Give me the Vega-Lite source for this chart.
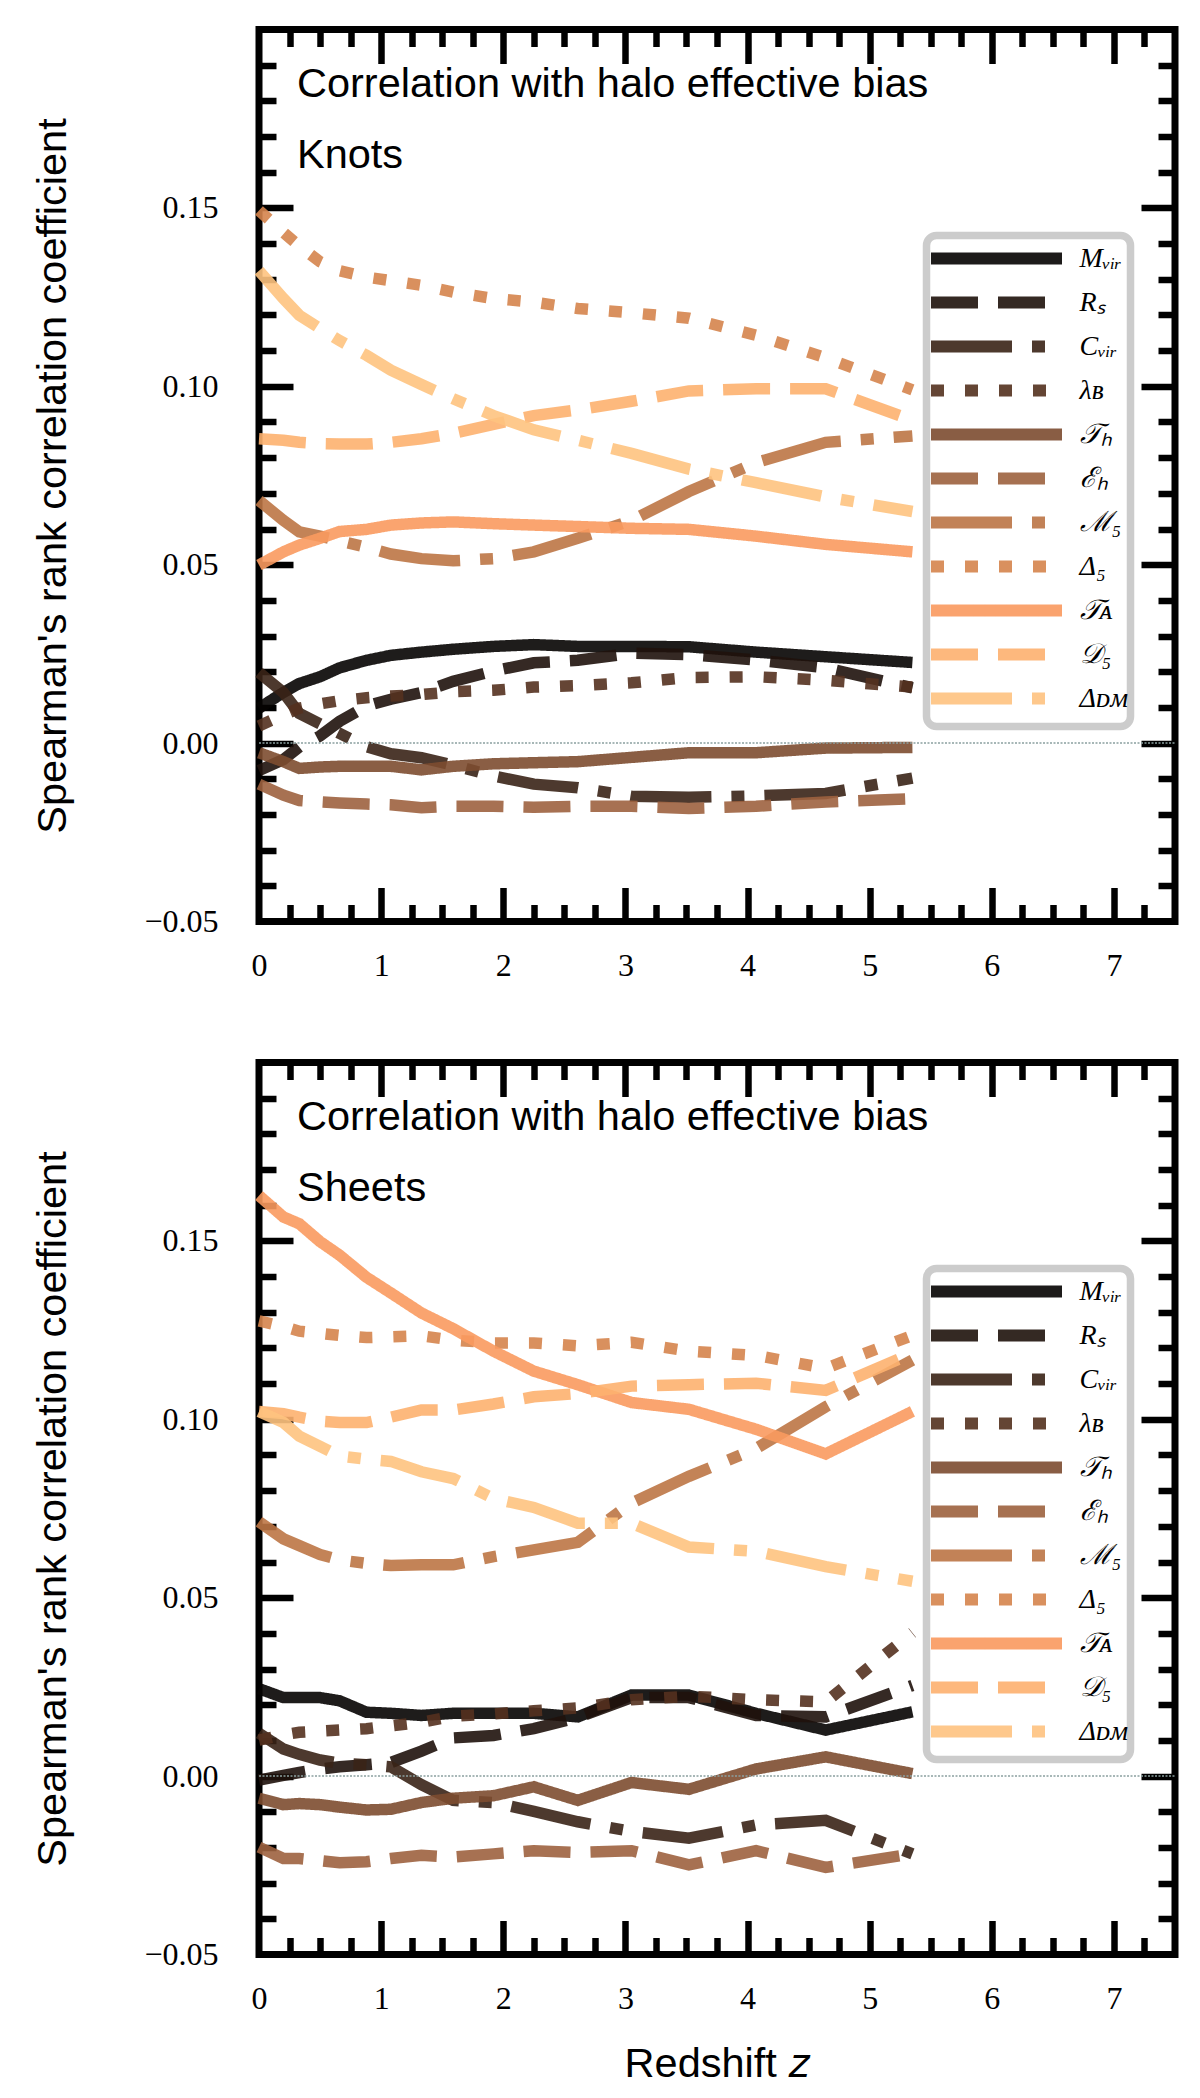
{
  "$schema": "https://vega.github.io/schema/vega-lite/v6.json",
  "autosize": {"type": "pad"},
  "padding": {"left": 28, "top": 22.5, "right": 0, "bottom": 0},
  "background": "white",
  "datasets": {
    "knots": [
      {"z":0,"prop":"Mvir","rho":0.0098},{"z":0.2,"prop":"Mvir","rho":0.0142},{"z":0.33,"prop":"Mvir","rho":0.0167},{"z":0.5,"prop":"Mvir","rho":0.0186},{"z":0.66,"prop":"Mvir","rho":0.0211},{"z":0.88,"prop":"Mvir","rho":0.0232},{"z":1.08,"prop":"Mvir","rho":0.0246},{"z":1.33,"prop":"Mvir","rho":0.0255},{"z":1.59,"prop":"Mvir","rho":0.0263},{"z":1.92,"prop":"Mvir","rho":0.0271},{"z":2.25,"prop":"Mvir","rho":0.0276},{"z":2.61,"prop":"Mvir","rho":0.0271},{"z":3.05,"prop":"Mvir","rho":0.0271},{"z":3.52,"prop":"Mvir","rho":0.027},{"z":4.07,"prop":"Mvir","rho":0.0255},{"z":4.64,"prop":"Mvir","rho":0.0242},{"z":5.35,"prop":"Mvir","rho":0.0226},
      {"z":0,"prop":"Rs","rho":-0.0077},{"z":0.2,"prop":"Rs","rho":-0.0046},{"z":0.33,"prop":"Rs","rho":-0.0011},{"z":0.5,"prop":"Rs","rho":0.002},{"z":0.66,"prop":"Rs","rho":0.0061},{"z":0.88,"prop":"Rs","rho":0.0104},{"z":1.08,"prop":"Rs","rho":0.0123},{"z":1.33,"prop":"Rs","rho":0.0142},{"z":1.59,"prop":"Rs","rho":0.0173},{"z":1.92,"prop":"Rs","rho":0.0202},{"z":2.25,"prop":"Rs","rho":0.0225},{"z":2.61,"prop":"Rs","rho":0.0232},{"z":3.05,"prop":"Rs","rho":0.0252},{"z":3.52,"prop":"Rs","rho":0.0248},{"z":4.07,"prop":"Rs","rho":0.0233},{"z":4.64,"prop":"Rs","rho":0.0211},{"z":5.35,"prop":"Rs","rho":0.0155},
      {"z":0,"prop":"Cvir","rho":0.0198},{"z":0.2,"prop":"Cvir","rho":0.0142},{"z":0.33,"prop":"Cvir","rho":0.0083},{"z":0.5,"prop":"Cvir","rho":0.0054},{"z":0.66,"prop":"Cvir","rho":0.0027},{"z":0.88,"prop":"Cvir","rho":-0.001},{"z":1.08,"prop":"Cvir","rho":-0.003},{"z":1.33,"prop":"Cvir","rho":-0.0041},{"z":1.59,"prop":"Cvir","rho":-0.0062},{"z":1.92,"prop":"Cvir","rho":-0.0092},{"z":2.25,"prop":"Cvir","rho":-0.0115},{"z":2.61,"prop":"Cvir","rho":-0.0125},{"z":3.05,"prop":"Cvir","rho":-0.0149},{"z":3.52,"prop":"Cvir","rho":-0.0152},{"z":4.07,"prop":"Cvir","rho":-0.0148},{"z":4.64,"prop":"Cvir","rho":-0.0141},{"z":5.35,"prop":"Cvir","rho":-0.0098},
      {"z":0,"prop":"lambdaB","rho":0.0048},{"z":0.2,"prop":"lambdaB","rho":0.0079},{"z":0.33,"prop":"lambdaB","rho":0.0098},{"z":0.5,"prop":"lambdaB","rho":0.011},{"z":0.66,"prop":"lambdaB","rho":0.0119},{"z":0.88,"prop":"lambdaB","rho":0.0127},{"z":1.08,"prop":"lambdaB","rho":0.0132},{"z":1.33,"prop":"lambdaB","rho":0.0136},{"z":1.59,"prop":"lambdaB","rho":0.0144},{"z":1.92,"prop":"lambdaB","rho":0.0148},{"z":2.25,"prop":"lambdaB","rho":0.0157},{"z":2.61,"prop":"lambdaB","rho":0.0161},{"z":3.05,"prop":"lambdaB","rho":0.0169},{"z":3.52,"prop":"lambdaB","rho":0.0184},{"z":4.07,"prop":"lambdaB","rho":0.0186},{"z":4.64,"prop":"lambdaB","rho":0.0176},{"z":5.35,"prop":"lambdaB","rho":0.0157},
      {"z":0,"prop":"Th","rho":-0.0027},{"z":0.2,"prop":"Th","rho":-0.0052},{"z":0.33,"prop":"Th","rho":-0.0071},{"z":0.5,"prop":"Th","rho":-0.0067},{"z":0.66,"prop":"Th","rho":-0.0065},{"z":0.88,"prop":"Th","rho":-0.0065},{"z":1.08,"prop":"Th","rho":-0.0065},{"z":1.33,"prop":"Th","rho":-0.0075},{"z":1.59,"prop":"Th","rho":-0.0065},{"z":1.92,"prop":"Th","rho":-0.0058},{"z":2.25,"prop":"Th","rho":-0.0055},{"z":2.61,"prop":"Th","rho":-0.0052},{"z":3.05,"prop":"Th","rho":-0.004},{"z":3.52,"prop":"Th","rho":-0.0027},{"z":4.07,"prop":"Th","rho":-0.0027},{"z":4.64,"prop":"Th","rho":-0.0014},{"z":5.35,"prop":"Th","rho":-0.0012},
      {"z":0,"prop":"Eh","rho":-0.0115},{"z":0.2,"prop":"Eh","rho":-0.0146},{"z":0.33,"prop":"Eh","rho":-0.0161},{"z":0.5,"prop":"Eh","rho":-0.0165},{"z":0.66,"prop":"Eh","rho":-0.0168},{"z":0.88,"prop":"Eh","rho":-0.0171},{"z":1.08,"prop":"Eh","rho":-0.0173},{"z":1.33,"prop":"Eh","rho":-0.0181},{"z":1.59,"prop":"Eh","rho":-0.0177},{"z":1.92,"prop":"Eh","rho":-0.0177},{"z":2.25,"prop":"Eh","rho":-0.018},{"z":2.61,"prop":"Eh","rho":-0.0177},{"z":3.05,"prop":"Eh","rho":-0.0177},{"z":3.52,"prop":"Eh","rho":-0.0183},{"z":4.07,"prop":"Eh","rho":-0.0177},{"z":4.64,"prop":"Eh","rho":-0.0165},{"z":5.35,"prop":"Eh","rho":-0.0156},
      {"z":0,"prop":"M5","rho":0.068},{"z":0.2,"prop":"M5","rho":0.0624},{"z":0.33,"prop":"M5","rho":0.0592},{"z":0.5,"prop":"M5","rho":0.058},{"z":0.66,"prop":"M5","rho":0.0567},{"z":0.88,"prop":"M5","rho":0.0549},{"z":1.08,"prop":"M5","rho":0.053},{"z":1.33,"prop":"M5","rho":0.0517},{"z":1.59,"prop":"M5","rho":0.0511},{"z":1.92,"prop":"M5","rho":0.0517},{"z":2.25,"prop":"M5","rho":0.0536},{"z":2.61,"prop":"M5","rho":0.0574},{"z":3.05,"prop":"M5","rho":0.0624},{"z":3.52,"prop":"M5","rho":0.0705},{"z":4.07,"prop":"M5","rho":0.0786},{"z":4.64,"prop":"M5","rho":0.0843},{"z":5.35,"prop":"M5","rho":0.0861},
      {"z":0,"prop":"Delta5","rho":0.1493},{"z":0.2,"prop":"Delta5","rho":0.1431},{"z":0.33,"prop":"Delta5","rho":0.1393},{"z":0.5,"prop":"Delta5","rho":0.1349},{"z":0.66,"prop":"Delta5","rho":0.1324},{"z":0.88,"prop":"Delta5","rho":0.1306},{"z":1.08,"prop":"Delta5","rho":0.1296},{"z":1.33,"prop":"Delta5","rho":0.1283},{"z":1.59,"prop":"Delta5","rho":0.1264},{"z":1.92,"prop":"Delta5","rho":0.1246},{"z":2.25,"prop":"Delta5","rho":0.1236},{"z":2.61,"prop":"Delta5","rho":0.1218},{"z":3.05,"prop":"Delta5","rho":0.1206},{"z":3.52,"prop":"Delta5","rho":0.1191},{"z":4.07,"prop":"Delta5","rho":0.1143},{"z":4.64,"prop":"Delta5","rho":0.108},{"z":5.35,"prop":"Delta5","rho":0.099},
      {"z":0,"prop":"TA","rho":0.0499},{"z":0.2,"prop":"TA","rho":0.0536},{"z":0.33,"prop":"TA","rho":0.0555},{"z":0.5,"prop":"TA","rho":0.0574},{"z":0.66,"prop":"TA","rho":0.0593},{"z":0.88,"prop":"TA","rho":0.0599},{"z":1.08,"prop":"TA","rho":0.0611},{"z":1.33,"prop":"TA","rho":0.0617},{"z":1.59,"prop":"TA","rho":0.062},{"z":1.92,"prop":"TA","rho":0.0615},{"z":2.25,"prop":"TA","rho":0.0611},{"z":2.61,"prop":"TA","rho":0.0607},{"z":3.05,"prop":"TA","rho":0.0602},{"z":3.52,"prop":"TA","rho":0.0599},{"z":4.07,"prop":"TA","rho":0.058},{"z":4.64,"prop":"TA","rho":0.0557},{"z":5.35,"prop":"TA","rho":0.0536},
      {"z":0,"prop":"D5","rho":0.0853},{"z":0.2,"prop":"D5","rho":0.0849},{"z":0.33,"prop":"D5","rho":0.0843},{"z":0.5,"prop":"D5","rho":0.0839},{"z":0.66,"prop":"D5","rho":0.0838},{"z":0.88,"prop":"D5","rho":0.0838},{"z":1.08,"prop":"D5","rho":0.0843},{"z":1.33,"prop":"D5","rho":0.0853},{"z":1.59,"prop":"D5","rho":0.0868},{"z":1.92,"prop":"D5","rho":0.0893},{"z":2.25,"prop":"D5","rho":0.0918},{"z":2.61,"prop":"D5","rho":0.0934},{"z":3.05,"prop":"D5","rho":0.0958},{"z":3.52,"prop":"D5","rho":0.0987},{"z":4.07,"prop":"D5","rho":0.0993},{"z":4.64,"prop":"D5","rho":0.0993},{"z":5.35,"prop":"D5","rho":0.0905},
      {"z":0,"prop":"Deltadm","rho":0.1324},{"z":0.2,"prop":"Deltadm","rho":0.1246},{"z":0.33,"prop":"Deltadm","rho":0.1199},{"z":0.5,"prop":"Deltadm","rho":0.1162},{"z":0.66,"prop":"Deltadm","rho":0.1128},{"z":0.88,"prop":"Deltadm","rho":0.1087},{"z":1.08,"prop":"Deltadm","rho":0.1045},{"z":1.33,"prop":"Deltadm","rho":0.1005},{"z":1.59,"prop":"Deltadm","rho":0.0965},{"z":1.92,"prop":"Deltadm","rho":0.0918},{"z":2.25,"prop":"Deltadm","rho":0.0878},{"z":2.61,"prop":"Deltadm","rho":0.0849},{"z":3.05,"prop":"Deltadm","rho":0.0812},{"z":3.52,"prop":"Deltadm","rho":0.0768},{"z":4.07,"prop":"Deltadm","rho":0.073},{"z":4.64,"prop":"Deltadm","rho":0.069},{"z":5.35,"prop":"Deltadm","rho":0.0649}
    ],
    "sheets": [
      {"z":0,"prop":"Mvir","rho":0.0245},{"z":0.2,"prop":"Mvir","rho":0.022},{"z":0.33,"prop":"Mvir","rho":0.022},{"z":0.5,"prop":"Mvir","rho":0.022},{"z":0.66,"prop":"Mvir","rho":0.0211},{"z":0.88,"prop":"Mvir","rho":0.0179},{"z":1.08,"prop":"Mvir","rho":0.0176},{"z":1.33,"prop":"Mvir","rho":0.017},{"z":1.59,"prop":"Mvir","rho":0.0176},{"z":1.92,"prop":"Mvir","rho":0.0176},{"z":2.25,"prop":"Mvir","rho":0.0176},{"z":2.61,"prop":"Mvir","rho":0.0166},{"z":3.05,"prop":"Mvir","rho":0.0227},{"z":3.52,"prop":"Mvir","rho":0.0227},{"z":4.07,"prop":"Mvir","rho":0.0176},{"z":4.64,"prop":"Mvir","rho":0.0129},{"z":5.35,"prop":"Mvir","rho":0.018},
      {"z":0,"prop":"Rs","rho":-0.0011},{"z":0.2,"prop":"Rs","rho":0.0002},{"z":0.33,"prop":"Rs","rho":0.001},{"z":0.5,"prop":"Rs","rho":0.002},{"z":0.66,"prop":"Rs","rho":0.0026},{"z":0.88,"prop":"Rs","rho":0.0032},{"z":1.08,"prop":"Rs","rho":0.0038},{"z":1.33,"prop":"Rs","rho":0.007},{"z":1.59,"prop":"Rs","rho":0.0107},{"z":1.92,"prop":"Rs","rho":0.0114},{"z":2.25,"prop":"Rs","rho":0.0133},{"z":2.61,"prop":"Rs","rho":0.0164},{"z":3.05,"prop":"Rs","rho":0.022},{"z":3.52,"prop":"Rs","rho":0.022},{"z":4.07,"prop":"Rs","rho":0.017},{"z":4.64,"prop":"Rs","rho":0.0166},{"z":5.35,"prop":"Rs","rho":0.0254},
      {"z":0,"prop":"Cvir","rho":0.012},{"z":0.2,"prop":"Cvir","rho":0.0076},{"z":0.33,"prop":"Cvir","rho":0.0061},{"z":0.5,"prop":"Cvir","rho":0.0045},{"z":0.66,"prop":"Cvir","rho":0.0036},{"z":0.88,"prop":"Cvir","rho":0.0032},{"z":1.08,"prop":"Cvir","rho":0.0026},{"z":1.33,"prop":"Cvir","rho":-0.0024},{"z":1.59,"prop":"Cvir","rho":-0.0068},{"z":1.92,"prop":"Cvir","rho":-0.0074},{"z":2.25,"prop":"Cvir","rho":-0.0099},{"z":2.61,"prop":"Cvir","rho":-0.0128},{"z":3.05,"prop":"Cvir","rho":-0.0155},{"z":3.52,"prop":"Cvir","rho":-0.0174},{"z":4.07,"prop":"Cvir","rho":-0.0137},{"z":4.64,"prop":"Cvir","rho":-0.0124},{"z":5.35,"prop":"Cvir","rho":-0.0218},
      {"z":0,"prop":"lambdaB","rho":0.0101},{"z":0.2,"prop":"lambdaB","rho":0.0116},{"z":0.33,"prop":"lambdaB","rho":0.0123},{"z":0.5,"prop":"lambdaB","rho":0.0126},{"z":0.66,"prop":"lambdaB","rho":0.0129},{"z":0.88,"prop":"lambdaB","rho":0.0133},{"z":1.08,"prop":"lambdaB","rho":0.0141},{"z":1.33,"prop":"lambdaB","rho":0.0151},{"z":1.59,"prop":"lambdaB","rho":0.0168},{"z":1.92,"prop":"lambdaB","rho":0.0174},{"z":2.25,"prop":"lambdaB","rho":0.0183},{"z":2.61,"prop":"lambdaB","rho":0.0191},{"z":3.05,"prop":"lambdaB","rho":0.0214},{"z":3.52,"prop":"lambdaB","rho":0.0224},{"z":4.07,"prop":"lambdaB","rho":0.0214},{"z":4.64,"prop":"lambdaB","rho":0.0208},{"z":5.35,"prop":"lambdaB","rho":0.0402},
      {"z":0,"prop":"Th","rho":-0.0062},{"z":0.2,"prop":"Th","rho":-0.008},{"z":0.33,"prop":"Th","rho":-0.0077},{"z":0.5,"prop":"Th","rho":-0.008},{"z":0.66,"prop":"Th","rho":-0.0087},{"z":0.88,"prop":"Th","rho":-0.0095},{"z":1.08,"prop":"Th","rho":-0.0093},{"z":1.33,"prop":"Th","rho":-0.0074},{"z":1.59,"prop":"Th","rho":-0.0062},{"z":1.92,"prop":"Th","rho":-0.0055},{"z":2.25,"prop":"Th","rho":-0.003},{"z":2.61,"prop":"Th","rho":-0.0068},{"z":3.05,"prop":"Th","rho":-0.0018},{"z":3.52,"prop":"Th","rho":-0.0037},{"z":4.07,"prop":"Th","rho":0.002},{"z":4.64,"prop":"Th","rho":0.0054},{"z":5.35,"prop":"Th","rho":0.0007},
      {"z":0,"prop":"Eh","rho":-0.0199},{"z":0.2,"prop":"Eh","rho":-0.0231},{"z":0.33,"prop":"Eh","rho":-0.0231},{"z":0.5,"prop":"Eh","rho":-0.0237},{"z":0.66,"prop":"Eh","rho":-0.0243},{"z":0.88,"prop":"Eh","rho":-0.024},{"z":1.08,"prop":"Eh","rho":-0.0231},{"z":1.33,"prop":"Eh","rho":-0.0222},{"z":1.59,"prop":"Eh","rho":-0.0227},{"z":1.92,"prop":"Eh","rho":-0.0218},{"z":2.25,"prop":"Eh","rho":-0.0209},{"z":2.61,"prop":"Eh","rho":-0.0214},{"z":3.05,"prop":"Eh","rho":-0.0209},{"z":3.52,"prop":"Eh","rho":-0.0249},{"z":4.07,"prop":"Eh","rho":-0.0209},{"z":4.64,"prop":"Eh","rho":-0.0256},{"z":5.35,"prop":"Eh","rho":-0.0218},
      {"z":0,"prop":"M5","rho":0.0713},{"z":0.2,"prop":"M5","rho":0.0665},{"z":0.33,"prop":"M5","rho":0.0646},{"z":0.5,"prop":"M5","rho":0.0621},{"z":0.66,"prop":"M5","rho":0.0606},{"z":0.88,"prop":"M5","rho":0.0596},{"z":1.08,"prop":"M5","rho":0.059},{"z":1.33,"prop":"M5","rho":0.0592},{"z":1.59,"prop":"M5","rho":0.0592},{"z":1.92,"prop":"M5","rho":0.0615},{"z":2.25,"prop":"M5","rho":0.0634},{"z":2.61,"prop":"M5","rho":0.0655},{"z":3.05,"prop":"M5","rho":0.0765},{"z":3.52,"prop":"M5","rho":0.084},{"z":4.07,"prop":"M5","rho":0.0918},{"z":4.64,"prop":"M5","rho":0.1035},{"z":5.35,"prop":"M5","rho":0.1166},
      {"z":0,"prop":"Delta5","rho":0.1276},{"z":0.2,"prop":"Delta5","rho":0.126},{"z":0.33,"prop":"Delta5","rho":0.1247},{"z":0.5,"prop":"Delta5","rho":0.1241},{"z":0.66,"prop":"Delta5","rho":0.1235},{"z":0.88,"prop":"Delta5","rho":0.1229},{"z":1.08,"prop":"Delta5","rho":0.1231},{"z":1.33,"prop":"Delta5","rho":0.1234},{"z":1.59,"prop":"Delta5","rho":0.1222},{"z":1.92,"prop":"Delta5","rho":0.1214},{"z":2.25,"prop":"Delta5","rho":0.1214},{"z":2.61,"prop":"Delta5","rho":0.1206},{"z":3.05,"prop":"Delta5","rho":0.1216},{"z":3.52,"prop":"Delta5","rho":0.1191},{"z":4.07,"prop":"Delta5","rho":0.1179},{"z":4.64,"prop":"Delta5","rho":0.1143},{"z":5.35,"prop":"Delta5","rho":0.1235},
      {"z":0,"prop":"TA","rho":0.1627},{"z":0.2,"prop":"TA","rho":0.1567},{"z":0.33,"prop":"TA","rho":0.1548},{"z":0.5,"prop":"TA","rho":0.1498},{"z":0.66,"prop":"TA","rho":0.146},{"z":0.88,"prop":"TA","rho":0.1398},{"z":1.08,"prop":"TA","rho":0.1354},{"z":1.33,"prop":"TA","rho":0.1298},{"z":1.59,"prop":"TA","rho":0.1254},{"z":1.92,"prop":"TA","rho":0.1191},{"z":2.25,"prop":"TA","rho":0.1135},{"z":2.61,"prop":"TA","rho":0.1097},{"z":3.05,"prop":"TA","rho":0.1047},{"z":3.52,"prop":"TA","rho":0.1028},{"z":4.07,"prop":"TA","rho":0.0972},{"z":4.64,"prop":"TA","rho":0.0903},{"z":5.35,"prop":"TA","rho":0.1022},
      {"z":0,"prop":"D5","rho":0.1022},{"z":0.2,"prop":"D5","rho":0.1016},{"z":0.33,"prop":"D5","rho":0.1006},{"z":0.5,"prop":"D5","rho":0.0995},{"z":0.66,"prop":"D5","rho":0.0991},{"z":0.88,"prop":"D5","rho":0.0991},{"z":1.08,"prop":"D5","rho":0.1006},{"z":1.33,"prop":"D5","rho":0.1026},{"z":1.59,"prop":"D5","rho":0.1026},{"z":1.92,"prop":"D5","rho":0.1043},{"z":2.25,"prop":"D5","rho":0.1063},{"z":2.61,"prop":"D5","rho":0.1072},{"z":3.05,"prop":"D5","rho":0.1093},{"z":3.52,"prop":"D5","rho":0.1097},{"z":4.07,"prop":"D5","rho":0.1101},{"z":4.64,"prop":"D5","rho":0.1081},{"z":5.35,"prop":"D5","rho":0.1185},
      {"z":0,"prop":"Deltadm","rho":0.1022},{"z":0.2,"prop":"Deltadm","rho":0.0991},{"z":0.33,"prop":"Deltadm","rho":0.0953},{"z":0.5,"prop":"Deltadm","rho":0.0924},{"z":0.66,"prop":"Deltadm","rho":0.0897},{"z":0.88,"prop":"Deltadm","rho":0.0888},{"z":1.08,"prop":"Deltadm","rho":0.0882},{"z":1.33,"prop":"Deltadm","rho":0.0853},{"z":1.59,"prop":"Deltadm","rho":0.0834},{"z":1.92,"prop":"Deltadm","rho":0.0778},{"z":2.25,"prop":"Deltadm","rho":0.0753},{"z":2.61,"prop":"Deltadm","rho":0.0709},{"z":3.05,"prop":"Deltadm","rho":0.0709},{"z":3.52,"prop":"Deltadm","rho":0.0642},{"z":4.07,"prop":"Deltadm","rho":0.063},{"z":4.64,"prop":"Deltadm","rho":0.0587},{"z":5.35,"prop":"Deltadm","rho":0.0546}
    ]
  },
  "vconcat": [
    {
      "width": 916,
      "height": 892,
      "resolve": {"axis": {"x": "independent", "y": "independent"}},
      "layer": [
        {
          "data": {"name": "knots"},
          "mark": {"type": "line", "strokeWidth": 11.5, "opacity": 0.9, "strokeCap": "butt"},
          "encoding": {
            "x": {"field": "z", "type": "quantitative", "scale": {"domain": [0, 7.5], "nice": false, "zero": false},
              "axis": {"orient": "bottom", "values": [0,1,2,3,4,5,6,7], "ticks": false, "domain": false, "grid": false, "labelFont": "Liberation Serif", "labelFontSize": 32, "labelPadding": 29, "labelFlush": false, "labelOverlap": false, "labelColor": "black", "title": null}},
            "y": {"field": "rho", "type": "quantitative", "scale": {"domain": [-0.05, 0.2], "nice": false, "zero": false},
              "axis": {"orient": "left", "values": [-0.05,0,0.05,0.1,0.15], "format": ".2f", "ticks": false, "domain": false, "grid": false, "labelFont": "Liberation Serif", "labelFontSize": 32, "labelPadding": 41, "labelFlush": false, "labelOverlap": false, "labelColor": "black",
                "title": "Spearman's rank correlation coefficient", "titleFont": "Liberation Sans", "titleFontSize": 41.5, "titleFontWeight": "normal", "titleColor": "black", "titleX": -194, "titleY": 446, "titleAngle": 270, "titleBaseline": "alphabetic", "titleAlign": "center"}},
            "color": {"field": "prop", "type": "nominal",
              "scale": {"domain": ["Mvir","Rs","Cvir","lambdaB","Th","Eh","M5","Delta5","TA","D5","Deltadm"], "range": ["#050302","#1f120c","#3a2417","#54311f","#7d4c30","#9d623f","#bc7545","#d5844d","#fa9a5f","#fdb16f","#fec380"]},
              "legend": {"title": null, "orient": "none", "legendX": 667.5, "legendY": 206, "direction": "vertical", "symbolType": "M-4.852,0H4.852", "symbolSize": 729, "symbolStrokeWidth": 12, "symbolOffset": 47, "symbolOpacity": 0.9, "labelOffset": 63.5, "labelFont": "Liberation Serif", "labelFontSize": 28, "labelFontStyle": "italic", "labelColor": "black", "labelLimit": 300, "rowPadding": -14.5, "padding": 3.5, "strokeColor": "#cccccc", "cornerRadius": 10, "fillColor": "rgba(255,255,255,0.8)",
                "labelExpr": "['Mᵥᵢᵣ','Rₛ','Cᵥᵢᵣ','λʙ','𝒯ₕ','ℰₕ','ℳ₅','Δ₅','𝒯ᴀ','𝒟₅','Δᴅᴍ'][indexof(['Mvir','Rs','Cvir','lambdaB','Th','Eh','M5','Delta5','TA','D5','Deltadm'], datum.label)]"}},
            "strokeDash": {"field": "prop", "type": "nominal",
              "scale": {"domain": ["Mvir","Rs","Cvir","lambdaB","Th","Eh","M5","Delta5","TA","D5","Deltadm"], "range": [[1,0],[47,20],[81,20,13,20],[13,21],[1,0],[47,20],[81,20,13,20],[13,21],[1,0],[47,20],[81,20,13,20]]},
              "legend": {"title": null, "orient": "none", "legendX": 667.5, "legendY": 206, "direction": "vertical", "symbolType": "M-4.852,0H4.852", "symbolSize": 729, "symbolStrokeWidth": 12, "symbolOffset": 47, "symbolOpacity": 0.9, "labelOffset": 63.5, "labelFont": "Liberation Serif", "labelFontSize": 28, "labelFontStyle": "italic", "labelColor": "black", "labelLimit": 300, "rowPadding": -14.5, "padding": 3.5, "strokeColor": "#cccccc", "cornerRadius": 10, "fillColor": "rgba(255,255,255,0.8)",
                "labelExpr": "['Mᵥᵢᵣ','Rₛ','Cᵥᵢᵣ','λʙ','𝒯ₕ','ℰₕ','ℳ₅','Δ₅','𝒯ᴀ','𝒟₅','Δᴅᴍ'][indexof(['Mvir','Rs','Cvir','lambdaB','Th','Eh','M5','Delta5','TA','D5','Deltadm'], datum.label)]"}}
          }
        },
        {
          "data": {"values": [{}]},
          "mark": {"type": "rule", "color": "#8aa0a0", "strokeWidth": 1.5, "strokeDash": [2, 1.5]},
          "encoding": {
            "x": {"datum": 0, "type": "quantitative", "scale": {"domain": [0, 7.5], "nice": false, "zero": false},
              "axis": {"orient": "bottom", "values": [1,2,3,4,5,6,7], "labels": false, "domain": false, "grid": false, "tickSize": -34, "tickWidth": 6.5, "tickColor": "black", "title": null}},
            "x2": {"datum": 7.5},
            "y": {"datum": 0, "type": "quantitative", "scale": {"domain": [-0.05, 0.2], "nice": false, "zero": false},
              "axis": {"orient": "left", "values": [0,0.05,0.1,0.15], "labels": false, "domain": false, "grid": false, "tickSize": -34, "tickWidth": 6.5, "tickColor": "black", "title": null}}
          }
        },
        {
          "data": {"values": [{}]},
          "mark": {"type": "text", "text": "Correlation with halo effective bias", "align": "left", "baseline": "alphabetic", "font": "Liberation Sans", "fontSize": 41.5, "color": "black"},
          "encoding": {
            "x": {"datum": 0.311, "type": "quantitative", "scale": {"domain": [0, 7.5], "nice": false, "zero": false},
              "axis": {"orient": "top", "values": [1,2,3,4,5,6,7], "labels": false, "domain": false, "grid": false, "tickSize": -34, "tickWidth": 6.5, "tickColor": "black", "title": null}},
            "y": {"datum": 0.1812, "type": "quantitative", "scale": {"domain": [-0.05, 0.2], "nice": false, "zero": false},
              "axis": {"orient": "right", "values": [0,0.05,0.1,0.15], "labels": false, "domain": false, "grid": false, "tickSize": -34, "tickWidth": 6.5, "tickColor": "black", "title": null}}
          }
        },
        {
          "data": {"values": [{}]},
          "mark": {"type": "text", "text": "Knots", "align": "left", "baseline": "alphabetic", "font": "Liberation Sans", "fontSize": 41.5, "color": "black"},
          "encoding": {
            "x": {"datum": 0.311, "type": "quantitative", "scale": {"domain": [0, 7.5], "nice": false, "zero": false},
              "axis": {"orient": "bottom", "values": [0.25,0.5,0.75,1.25,1.5,1.75,2.25,2.5,2.75,3.25,3.5,3.75,4.25,4.5,4.75,5.25,5.5,5.75,6.25,6.5,6.75,7.25], "labels": false, "domain": false, "grid": false, "tickSize": -17, "tickWidth": 6.5, "tickColor": "black", "title": null}},
            "y": {"datum": 0.1613, "type": "quantitative", "scale": {"domain": [-0.05, 0.2], "nice": false, "zero": false},
              "axis": {"orient": "left", "values": [-0.04,-0.03,-0.02,-0.01,0.01,0.02,0.03,0.04,0.06,0.07,0.08,0.09,0.11,0.12,0.13,0.14,0.16,0.17,0.18,0.19], "labels": false, "domain": false, "grid": false, "tickSize": -17, "tickWidth": 6.5, "tickColor": "black", "title": null}}
          }
        },
        {
          "data": {"values": [{}]},
          "mark": {"type": "rule", "strokeOpacity": 0},
          "encoding": {
            "x": {"datum": 0, "type": "quantitative", "scale": {"domain": [0, 7.5], "nice": false, "zero": false},
              "axis": {"orient": "top", "values": [0.25,0.5,0.75,1.25,1.5,1.75,2.25,2.5,2.75,3.25,3.5,3.75,4.25,4.5,4.75,5.25,5.5,5.75,6.25,6.5,6.75,7.25], "labels": false, "domain": false, "grid": false, "tickSize": -17, "tickWidth": 6.5, "tickColor": "black", "title": null}},
            "y": {"datum": 0, "type": "quantitative", "scale": {"domain": [-0.05, 0.2], "nice": false, "zero": false},
              "axis": {"orient": "right", "values": [-0.04,-0.03,-0.02,-0.01,0.01,0.02,0.03,0.04,0.06,0.07,0.08,0.09,0.11,0.12,0.13,0.14,0.16,0.17,0.18,0.19], "labels": false, "domain": false, "grid": false, "tickSize": -17, "tickWidth": 6.5, "tickColor": "black", "title": null}}
          }
        }
      ]
    },
    {
      "width": 916,
      "height": 892,
      "resolve": {"axis": {"x": "independent", "y": "independent"}},
      "layer": [
        {
          "data": {"name": "sheets"},
          "mark": {"type": "line", "strokeWidth": 11.5, "opacity": 0.9, "strokeCap": "butt"},
          "encoding": {
            "x": {"field": "z", "type": "quantitative", "scale": {"domain": [0, 7.5], "nice": false, "zero": false},
              "axis": {"orient": "bottom", "values": [0,1,2,3,4,5,6,7], "ticks": false, "domain": false, "grid": false, "labelFont": "Liberation Serif", "labelFontSize": 32, "labelPadding": 29, "labelFlush": false, "labelOverlap": false, "labelColor": "black",
                "title": "Redshift 𝑧", "titleFont": "Liberation Sans", "titleFontSize": 41.5, "titleFontWeight": "normal", "titleColor": "black", "titleX": 458, "titleY": 122, "titleBaseline": "alphabetic", "titleAlign": "center"}},
            "y": {"field": "rho", "type": "quantitative", "scale": {"domain": [-0.05, 0.2], "nice": false, "zero": false},
              "axis": {"orient": "left", "values": [-0.05,0,0.05,0.1,0.15], "format": ".2f", "ticks": false, "domain": false, "grid": false, "labelFont": "Liberation Serif", "labelFontSize": 32, "labelPadding": 41, "labelFlush": false, "labelOverlap": false, "labelColor": "black",
                "title": "Spearman's rank correlation coefficient", "titleFont": "Liberation Sans", "titleFontSize": 41.5, "titleFontWeight": "normal", "titleColor": "black", "titleX": -194, "titleY": 446, "titleAngle": 270, "titleBaseline": "alphabetic", "titleAlign": "center"}},
            "color": {"field": "prop", "type": "nominal",
              "scale": {"domain": ["Mvir","Rs","Cvir","lambdaB","Th","Eh","M5","Delta5","TA","D5","Deltadm"], "range": ["#050302","#1f120c","#3a2417","#54311f","#7d4c30","#9d623f","#bc7545","#d5844d","#fa9a5f","#fdb16f","#fec380"]},
              "legend": {"title": null, "orient": "none", "legendX": 667.5, "legendY": 206, "direction": "vertical", "symbolType": "M-4.852,0H4.852", "symbolSize": 729, "symbolStrokeWidth": 12, "symbolOffset": 47, "symbolOpacity": 0.9, "labelOffset": 63.5, "labelFont": "Liberation Serif", "labelFontSize": 28, "labelFontStyle": "italic", "labelColor": "black", "labelLimit": 300, "rowPadding": -14.5, "padding": 3.5, "strokeColor": "#cccccc", "cornerRadius": 10, "fillColor": "rgba(255,255,255,0.8)",
                "labelExpr": "['Mᵥᵢᵣ','Rₛ','Cᵥᵢᵣ','λʙ','𝒯ₕ','ℰₕ','ℳ₅','Δ₅','𝒯ᴀ','𝒟₅','Δᴅᴍ'][indexof(['Mvir','Rs','Cvir','lambdaB','Th','Eh','M5','Delta5','TA','D5','Deltadm'], datum.label)]"}},
            "strokeDash": {"field": "prop", "type": "nominal",
              "scale": {"domain": ["Mvir","Rs","Cvir","lambdaB","Th","Eh","M5","Delta5","TA","D5","Deltadm"], "range": [[1,0],[47,20],[81,20,13,20],[13,21],[1,0],[47,20],[81,20,13,20],[13,21],[1,0],[47,20],[81,20,13,20]]},
              "legend": {"title": null, "orient": "none", "legendX": 667.5, "legendY": 206, "direction": "vertical", "symbolType": "M-4.852,0H4.852", "symbolSize": 729, "symbolStrokeWidth": 12, "symbolOffset": 47, "symbolOpacity": 0.9, "labelOffset": 63.5, "labelFont": "Liberation Serif", "labelFontSize": 28, "labelFontStyle": "italic", "labelColor": "black", "labelLimit": 300, "rowPadding": -14.5, "padding": 3.5, "strokeColor": "#cccccc", "cornerRadius": 10, "fillColor": "rgba(255,255,255,0.8)",
                "labelExpr": "['Mᵥᵢᵣ','Rₛ','Cᵥᵢᵣ','λʙ','𝒯ₕ','ℰₕ','ℳ₅','Δ₅','𝒯ᴀ','𝒟₅','Δᴅᴍ'][indexof(['Mvir','Rs','Cvir','lambdaB','Th','Eh','M5','Delta5','TA','D5','Deltadm'], datum.label)]"}}
          }
        },
        {
          "data": {"values": [{}]},
          "mark": {"type": "rule", "color": "#8aa0a0", "strokeWidth": 1.5, "strokeDash": [2, 1.5]},
          "encoding": {
            "x": {"datum": 0, "type": "quantitative", "scale": {"domain": [0, 7.5], "nice": false, "zero": false},
              "axis": {"orient": "bottom", "values": [1,2,3,4,5,6,7], "labels": false, "domain": false, "grid": false, "tickSize": -34, "tickWidth": 6.5, "tickColor": "black", "title": null}},
            "x2": {"datum": 7.5},
            "y": {"datum": 0, "type": "quantitative", "scale": {"domain": [-0.05, 0.2], "nice": false, "zero": false},
              "axis": {"orient": "left", "values": [0,0.05,0.1,0.15], "labels": false, "domain": false, "grid": false, "tickSize": -34, "tickWidth": 6.5, "tickColor": "black", "title": null}}
          }
        },
        {
          "data": {"values": [{}]},
          "mark": {"type": "text", "text": "Correlation with halo effective bias", "align": "left", "baseline": "alphabetic", "font": "Liberation Sans", "fontSize": 41.5, "color": "black"},
          "encoding": {
            "x": {"datum": 0.311, "type": "quantitative", "scale": {"domain": [0, 7.5], "nice": false, "zero": false},
              "axis": {"orient": "top", "values": [1,2,3,4,5,6,7], "labels": false, "domain": false, "grid": false, "tickSize": -34, "tickWidth": 6.5, "tickColor": "black", "title": null}},
            "y": {"datum": 0.1812, "type": "quantitative", "scale": {"domain": [-0.05, 0.2], "nice": false, "zero": false},
              "axis": {"orient": "right", "values": [0,0.05,0.1,0.15], "labels": false, "domain": false, "grid": false, "tickSize": -34, "tickWidth": 6.5, "tickColor": "black", "title": null}}
          }
        },
        {
          "data": {"values": [{}]},
          "mark": {"type": "text", "text": "Sheets", "align": "left", "baseline": "alphabetic", "font": "Liberation Sans", "fontSize": 41.5, "color": "black"},
          "encoding": {
            "x": {"datum": 0.311, "type": "quantitative", "scale": {"domain": [0, 7.5], "nice": false, "zero": false},
              "axis": {"orient": "bottom", "values": [0.25,0.5,0.75,1.25,1.5,1.75,2.25,2.5,2.75,3.25,3.5,3.75,4.25,4.5,4.75,5.25,5.5,5.75,6.25,6.5,6.75,7.25], "labels": false, "domain": false, "grid": false, "tickSize": -17, "tickWidth": 6.5, "tickColor": "black", "title": null}},
            "y": {"datum": 0.1613, "type": "quantitative", "scale": {"domain": [-0.05, 0.2], "nice": false, "zero": false},
              "axis": {"orient": "left", "values": [-0.04,-0.03,-0.02,-0.01,0.01,0.02,0.03,0.04,0.06,0.07,0.08,0.09,0.11,0.12,0.13,0.14,0.16,0.17,0.18,0.19], "labels": false, "domain": false, "grid": false, "tickSize": -17, "tickWidth": 6.5, "tickColor": "black", "title": null}}
          }
        },
        {
          "data": {"values": [{}]},
          "mark": {"type": "rule", "strokeOpacity": 0},
          "encoding": {
            "x": {"datum": 0, "type": "quantitative", "scale": {"domain": [0, 7.5], "nice": false, "zero": false},
              "axis": {"orient": "top", "values": [0.25,0.5,0.75,1.25,1.5,1.75,2.25,2.5,2.75,3.25,3.5,3.75,4.25,4.5,4.75,5.25,5.5,5.75,6.25,6.5,6.75,7.25], "labels": false, "domain": false, "grid": false, "tickSize": -17, "tickWidth": 6.5, "tickColor": "black", "title": null}},
            "y": {"datum": 0, "type": "quantitative", "scale": {"domain": [-0.05, 0.2], "nice": false, "zero": false},
              "axis": {"orient": "right", "values": [-0.04,-0.03,-0.02,-0.01,0.01,0.02,0.03,0.04,0.06,0.07,0.08,0.09,0.11,0.12,0.13,0.14,0.16,0.17,0.18,0.19], "labels": false, "domain": false, "grid": false, "tickSize": -17, "tickWidth": 6.5, "tickColor": "black", "title": null}}
          }
        }
      ]
    }
  ],
  "spacing": 141,
  "bounds": "flush",
  "resolve": {"scale": {"color": "independent", "strokeDash": "independent"}},
  "config": {
    "view": {"stroke": "black", "strokeWidth": 7},
    "axis": {"domain": false, "grid": false},
    "legend": {"strokeWidth": 7.5}
  }
}
